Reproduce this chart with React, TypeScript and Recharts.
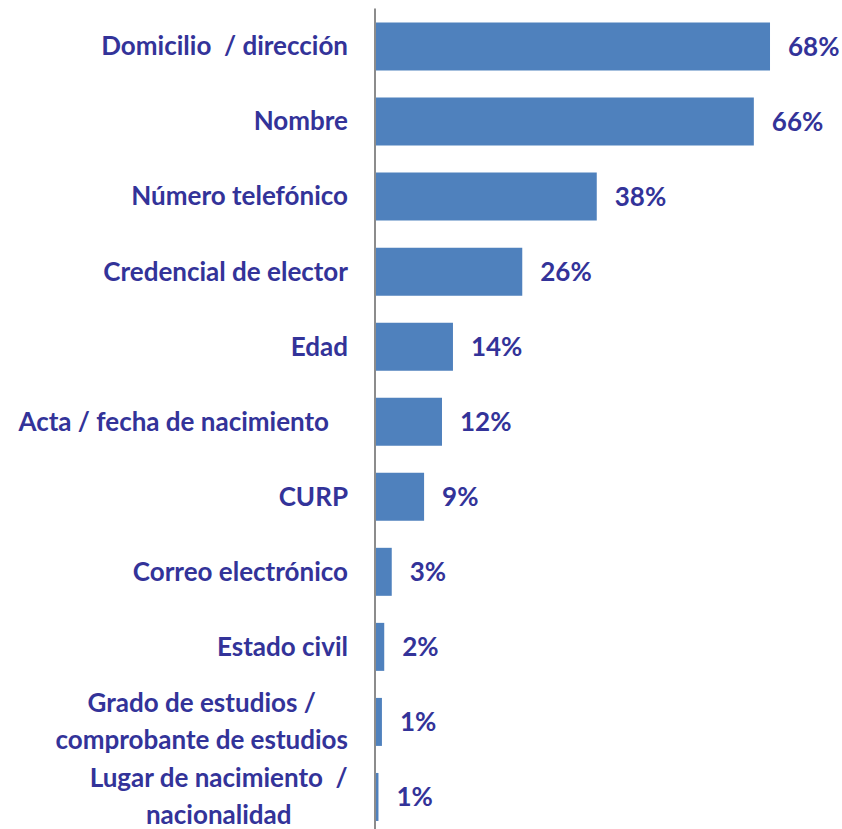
import { BarChart, Bar, XAxis, YAxis, LabelList } from 'recharts';

const categories = [
    'Domicilio  / dirección',
    'Nombre',
    'Número telefónico',
    'Credencial de elector',
    'Edad',
    'Acta / fecha de nacimiento   ',
    'CURP',
    'Correo electrónico',
    'Estado civil',
    'Grado de estudios /\ncomprobante de estudios',
    'Lugar de nacimiento  /\nnacionalidad',
];

const percentages = [68.4, 65.6, 38.4, 25.5, 13.5, 11.6, 8.5, 2.9, 1.6, 1.2, 0.6];

const data = categories.map((name, i) => ({ name, value: percentages[i] }));

const TEXT_COLOR = '#333399';
const BAR_COLOR = '#4F81BD';
const FONT = 'Lato, sans-serif';
const FONT_SIZE = 26;
const LINE_HEIGHT = 37;

let ctx: CanvasRenderingContext2D | null = null;
const measure = (s: string) => {
    if (!ctx) ctx = document.createElement('canvas').getContext('2d');
    if (!ctx) return s.length * FONT_SIZE * 0.5;
    ctx.font = `bold ${FONT_SIZE}px Lato`;
    return ctx.measureText(s).width;
};

const CategoryTick = (props: any) => {
    const { x, y, payload } = props;
    const lines = String(payload.value).split('\n');
    const textStyle = { whiteSpace: 'pre' as const };
    if (lines.length === 1) {
        return (
            <text x={x} y={y} dy="0.36em" textAnchor="end" fill={TEXT_COLOR}
                fontFamily={FONT} fontSize={FONT_SIZE} fontWeight="bold" style={textStyle}>
                {lines[0]}
            </text>
        );
    }
    const w = Math.max(...lines.map(measure));
    const cx = x - w / 2;
    return (
        <text textAnchor="middle" fill={TEXT_COLOR} fontFamily={FONT}
            fontSize={FONT_SIZE} fontWeight="bold" style={textStyle}>
            {lines.map((l, i) => (
                <tspan key={i} x={cx} y={y + (i - (lines.length - 1) / 2) * LINE_HEIGHT} dy="0.36em">
                    {l}
                </tspan>
            ))}
        </text>
    );
};

const ValueLabel = (props: any) => {
    const { x, y, width, height, value } = props;
    return (
        <text x={x + width + 18} y={y + height / 2} dy="0.36em" textAnchor="start"
            fill={TEXT_COLOR} fontFamily={FONT} fontSize={FONT_SIZE} fontWeight="bold">
            {`${Math.round(value)}%`}
        </text>
    );
};

const App = () => {
    return (
        <div style={{ position: 'absolute', top: 0, left: 0, width: 842, height: 829, overflow: 'hidden', background: '#fff' }}>
            <BarChart
                width={842}
                height={834}
                data={data}
                layout="vertical"
                margin={{ top: 8.5, right: 5, bottom: 0, left: 0 }}
            >
                <XAxis type="number" domain={[0, 80]} hide />
                <YAxis
                    type="category"
                    dataKey="name"
                    width={375}
                    tickSize={0}
                    tickMargin={27}
                    tickLine={false}
                    axisLine={{ stroke: '#8c8c8c', strokeWidth: 2 }}
                    tick={<CategoryTick />}
                    interval={0}
                />
                <Bar dataKey="value" fill={BAR_COLOR} barSize={48} isAnimationActive={false}>
                    <LabelList dataKey="value" content={<ValueLabel />} />
                </Bar>
            </BarChart>
        </div>
    );
};

export default App;
